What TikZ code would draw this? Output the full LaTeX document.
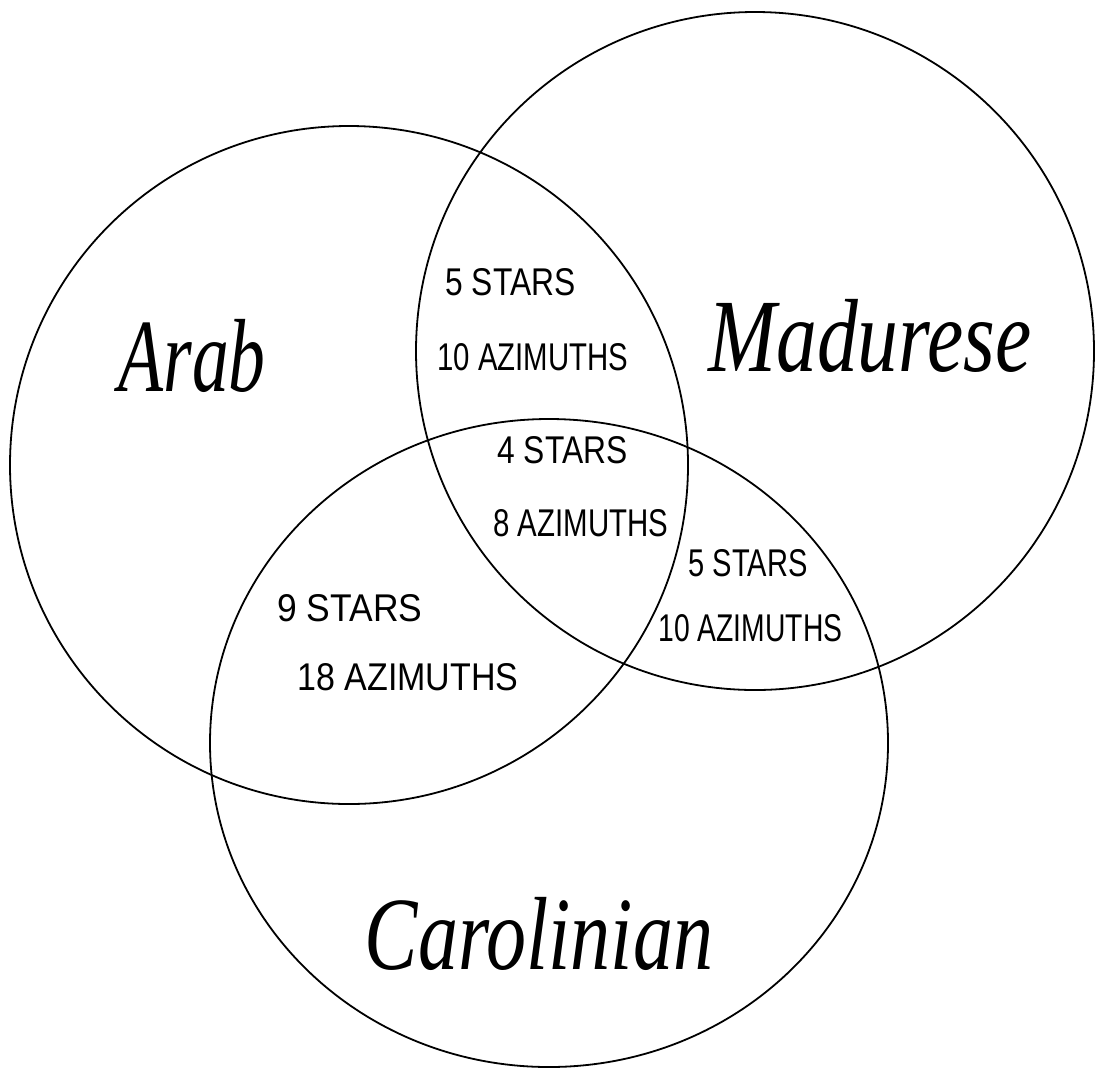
\documentclass[tikz,border=0pt]{standalone}
\usepackage{fontspec}
\usepackage{graphicx}
\setmainfont{Liberation Serif}
\setsansfont{Liberation Sans}
\usetikzlibrary{shapes.geometric}

% hand lettering: fixed width, fixed cap height
\newcommand{\handwrite}[2]{\resizebox{#1}{13.5pt}{#2}}

\begin{document}
\begin{tikzpicture}[
  x=0.5pt, y=-0.5pt,
  ring/.style={
    draw,
    line width=0.9pt,
    circle,
    inner sep=0pt,
    outer sep=0pt,
    minimum size=339pt
  },
  group/.style={
    font=\fontsize{40}{40}\selectfont\itshape,
    inner sep=0pt
  },
  count/.style={
    font=\sffamily,
    anchor=west,
    inner sep=0pt
  }
]
\useasboundingbox (0,0) rectangle (1096,1072);

% --- Circles ---
\node[ring] (arab) at (349,465) {};
\node[ring] (madurese) at (755,351) {};
\node[ring, ellipse, minimum width=339pt, minimum height=324pt] (carolinian) at (549,743) {};

% --- Group names ---
\node[group] (arabname) at (192,356) {\scalebox{0.92}[1.3]{Arab}};
\node[group] (madname) at (870,336) {\scalebox{1.02}[1.3]{Madurese}};
\node[group] (carname) at (539,934) {\scalebox{1}[1.3]{Carolinian}};

% --- Arab and Madurese ---
\node[count] (am1) at (445,282) {\handwrite{65pt}{5 STARS}};
\node[count] (am2) at (437,357) {\handwrite{95.5pt}{10 AZIMUTHS}};

% --- All three ---
\node[count] (all1) at (497,450) {\handwrite{65pt}{4 STARS}};
\node[count] (all2) at (493,523) {\handwrite{87.5pt}{8 AZIMUTHS}};

% --- Madurese and Carolinian ---
\node[count] (mc1) at (688,563) {\handwrite{59.5pt}{5 STARS}};
\node[count] (mc2) at (658,628) {\handwrite{92pt}{10 AZIMUTHS}};

% --- Arab and Carolinian ---
\node[count] (ac1) at (277,608) {\handwrite{72.5pt}{9 STARS}};
\node[count] (ac2) at (297,677) {\handwrite{110.5pt}{18 AZIMUTHS}};

\end{tikzpicture}
\end{document}
